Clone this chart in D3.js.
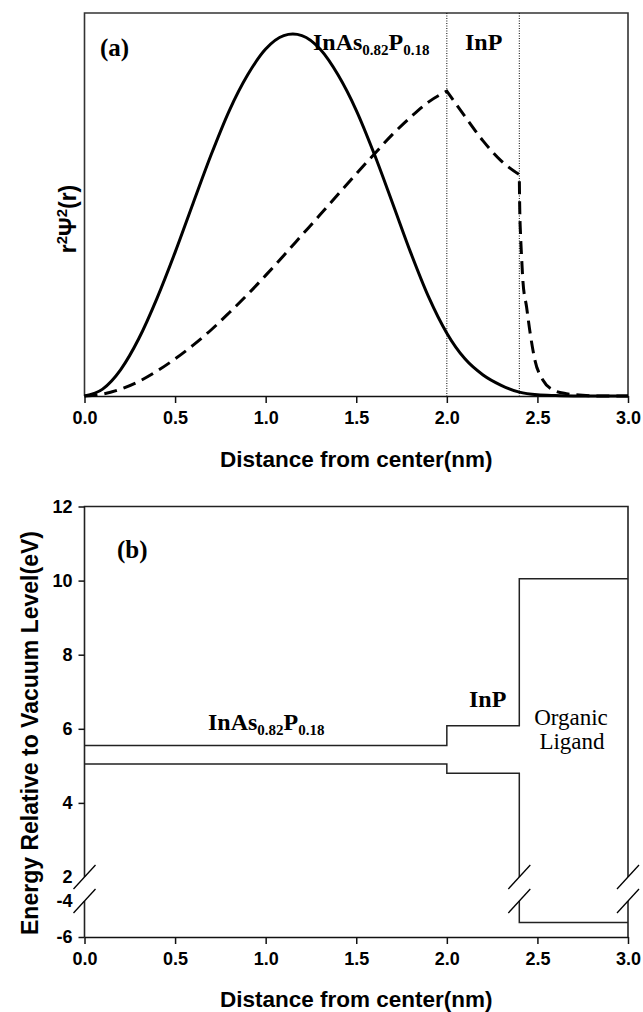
<!DOCTYPE html>
<html><head><meta charset="utf-8">
<script src="https://cdn.jsdelivr.net/npm/d3@7"></script>
<style>body{margin:0;background:#fff}svg{display:block}</style>
</head><body><svg id="c" width="643" height="1012"></svg>
<script>
// ---------- data ----------
const xTicks = [0, 0.5, 1.0, 1.5, 2.0, 2.5, 3.0];
// panel (a): r^2 psi^2(r), arbitrary units
const solidX = [0,0.1,0.2,0.3,0.4,0.5,0.6,0.7,0.8,0.9,1.0,1.1,1.15,1.2,1.3,1.4,1.5,1.6,1.7,1.8,1.9,2.0,2.1,2.2,2.3,2.4,2.5,2.6,2.7,2.8,3.0];
const solidY = [0,0.018,0.069,0.150,0.255,0.375,0.504,0.631,0.746,0.838,0.906,0.941,0.945,0.941,0.906,0.838,0.746,0.631,0.504,0.375,0.258,0.164,0.097,0.055,0.028,0.010,0.003,0.001,0,0,0];
const dashCoreX = [0,0.1,0.2,0.3,0.4,0.5,0.6,0.7,0.8,0.9,1.0,1.1,1.2,1.3,1.4,1.5,1.6,1.7,1.8,1.9,2.0];
const dashCoreY = [0,0.005,0.018,0.038,0.065,0.097,0.133,0.173,0.218,0.265,0.315,0.367,0.420,0.473,0.527,0.580,0.632,0.683,0.728,0.768,0.796];
const dashShellX = [2.0,2.1,2.2,2.3,2.4];
const dashShellY = [0.796,0.730,0.666,0.614,0.578];
const dashLigX = [2.4,2.402,2.407,2.413,2.42,2.44,2.46,2.486,2.53,2.586,2.66,2.75,2.85,3.0];
const dashLigY = [0.578,0.50,0.42,0.36,0.30,0.233,0.164,0.094,0.042,0.016,0.006,0.002,0,0];
const interfaces = [2.0, 2.4];
// panel (b): energy levels (eV)
const regionX = [0, 2.0, 2.4, 3.0];
const upperLevels = [5.55, 6.08, 10.05];
const lowerLevels = [5.05, 4.80, -5.2];
const energyTicks = [-6, -4, 2, 4, 6, 8, 10, 12];
const energyBreak = [-4, 2];

// ---------- layout ----------
const svg = d3.select("#c");
const L = 84.5, R = 628;
const sans = "'Liberation Sans', Arial, sans-serif";
const serif = "'Liberation Serif', 'Times New Roman', serif";
const ink = "#111";

const x = d3.scaleLinear().domain([0, 3]).range([L, R]);
const yA = d3.scaleLinear().domain([0, 1]).range([396, 13]);
const yB = d3.scaleLinear().domain([-6, -4, 2, 12]).range([937, 901, 877, 506.5]);

function xAxis(g, y0) {
  const ax = g.append("g").attr("transform", `translate(0,${y0})`)
    .call(d3.axisBottom(x).tickValues(xTicks).tickFormat(d3.format(".1f")).tickSize(7).tickSizeOuter(0).tickPadding(8));
  ax.select(".domain").attr("stroke", ink).attr("stroke-width", 1.6);
  ax.selectAll(".tick line").attr("stroke", ink).attr("stroke-width", 1.5);
  ax.selectAll(".tick text").attr("font-family", sans).attr("font-weight", "bold").attr("font-size", 18).attr("fill", "#000");
}

// ===== panel (a) =====
const a = svg.append("g");
a.append("path").attr("d", `M${x(0)},${yA(0)}V${yA(1)}H${x(3)}V${yA(0)}`)
  .attr("fill", "none").attr("stroke", "#333").attr("stroke-width", 1.6);
a.selectAll(".iface").data(interfaces).join("line")
  .attr("x1", d => x(d)).attr("x2", d => x(d)).attr("y1", yA(1)).attr("y2", yA(0))
  .attr("stroke", "#000").attr("stroke-width", 1).attr("stroke-dasharray", "1,1.5");
xAxis(a, yA(0));

const lineA = d3.line().x(d => x(d[0])).y(d => yA(d[1])).curve(d3.curveMonotoneX);
a.append("path").attr("d", lineA(d3.zip(solidX, solidY)))
  .attr("fill", "none").attr("stroke", "#000").attr("stroke-width", 3);
const p1 = lineA(d3.zip(dashCoreX, dashCoreY));
const p2 = lineA(d3.zip(dashShellX, dashShellY)).replace(/^M/, "L");
const p3 = lineA(d3.zip(dashLigX, dashLigY)).replace(/^M/, "L");
a.append("path").attr("d", p1 + p2 + p3)
  .attr("fill", "none").attr("stroke", "#000").attr("stroke-width", 3).attr("stroke-dasharray", "13,7");

a.append("text").attr("x", 100).attr("y", 56).attr("font-family", serif).attr("font-weight", "bold").attr("font-size", 25).text("(a)");
const ta = a.append("text").attr("x", 313).attr("y", 50).attr("font-family", serif).attr("font-weight", "bold").attr("font-size", 24);
ta.append("tspan").text("InAs");
ta.append("tspan").attr("font-size", 15).attr("dy", 5).text("0.82");
ta.append("tspan").attr("dy", -5).text("P");
ta.append("tspan").attr("font-size", 15).attr("dy", 5).text("0.18");
a.append("text").attr("x", 465).attr("y", 50).attr("font-family", serif).attr("font-weight", "bold").attr("font-size", 24).text("InP");

const yl = a.append("text").attr("transform", `translate(76,219) rotate(-90)`).attr("text-anchor", "middle")
  .attr("font-family", sans).attr("font-weight", "bold").attr("font-size", 23);
yl.append("tspan").text("r");
yl.append("tspan").attr("font-size", 15).attr("dy", -9).text("2");
yl.append("tspan").attr("dy", 9).text("Ψ");
yl.append("tspan").attr("font-size", 15).attr("dy", -9).text("2");
yl.append("tspan").attr("dy", 9).text("(r)");

a.append("text").attr("x", (L + R) / 2).attr("y", 467).attr("text-anchor", "middle")
  .attr("font-family", sans).attr("font-weight", "bold").attr("font-size", 22.5).text("Distance from center(nm)");

// ===== panel (b) =====
const b = svg.append("g");
const segLine = d3.line().x(d => x(d[0])).y(d => yB(d[1]));
const frameStroke = s => s.attr("fill", "none").attr("stroke", "#222").attr("stroke-width", 1.6);
b.append("path").attr("d", segLine([[0, energyBreak[1]], [0, 12], [3, 12], [3, energyBreak[1]]])).call(frameStroke);
b.append("path").attr("d", segLine([[0, energyBreak[0]], [0, -6]])).call(frameStroke);
b.append("path").attr("d", segLine([[3, energyBreak[0]], [3, -6]])).call(frameStroke);
xAxis(b, yB(-6));

const yAx = b.append("g").attr("transform", `translate(${L},0)`)
  .call(d3.axisLeft(yB).tickValues(energyTicks).tickFormat(d => String(d)).tickSize(6).tickSizeOuter(0).tickPadding(6));
yAx.select(".domain").remove();
yAx.selectAll(".tick line").attr("stroke", ink).attr("stroke-width", 1.5)
  .attr("visibility", d => energyBreak.includes(d) ? "hidden" : "visible");
yAx.selectAll(".tick text").attr("font-family", sans).attr("font-weight", "bold").attr("font-size", 18).attr("fill", "#000");

const upperPts = regionX.map((d, i) => [d, upperLevels[Math.min(i, upperLevels.length - 1)]]);
b.append("path").attr("d", d3.line().x(d => x(d[0])).y(d => yB(d[1])).curve(d3.curveStepAfter)(upperPts))
  .attr("fill", "none").attr("stroke", "#222").attr("stroke-width", 1.5);
const lowerPts1 = [[regionX[0], lowerLevels[0]], [regionX[1], lowerLevels[1]], [regionX[2], energyBreak[1]]];
b.append("path").attr("d", d3.line().x(d => x(d[0])).y(d => yB(d[1])).curve(d3.curveStepAfter)(lowerPts1))
  .attr("fill", "none").attr("stroke", "#222").attr("stroke-width", 1.5);
b.append("path").attr("d", segLine([[regionX[2], energyBreak[0]], [regionX[2], lowerLevels[2]], [regionX[3], lowerLevels[2]]]))
  .attr("fill", "none").attr("stroke", "#222").attr("stroke-width", 1.5);

const breakCols = [0, 2.4, 3.0];
const marks = [];
breakCols.forEach(c => energyBreak.forEach(v => marks.push([c, v])));
b.selectAll(".brk").data(marks).join("line")
  .attr("x1", d => x(d[0]) - 11).attr("y1", d => yB(d[1]) + 12)
  .attr("x2", d => x(d[0]) + 11).attr("y2", d => yB(d[1]) - 12)
  .attr("stroke", "#000").attr("stroke-width", 1.3);

b.append("text").attr("x", 117).attr("y", 558).attr("font-family", serif).attr("font-weight", "bold").attr("font-size", 25).text("(b)");
const tb = b.append("text").attr("x", 208).attr("y", 730).attr("font-family", serif).attr("font-weight", "bold").attr("font-size", 24);
tb.append("tspan").text("InAs");
tb.append("tspan").attr("font-size", 15).attr("dy", 5).text("0.82");
tb.append("tspan").attr("dy", -5).text("P");
tb.append("tspan").attr("font-size", 15).attr("dy", 5).text("0.18");
b.append("text").attr("x", 469).attr("y", 707).attr("font-family", serif).attr("font-weight", "bold").attr("font-size", 24).text("InP");
b.append("text").attr("x", 571).attr("y", 725).attr("text-anchor", "middle").attr("font-family", serif).attr("font-size", 23).text("Organic");
b.append("text").attr("x", 572).attr("y", 749).attr("text-anchor", "middle").attr("font-family", serif).attr("font-size", 23).text("Ligand");

b.append("text").attr("transform", `translate(38,733) rotate(-90)`).attr("text-anchor", "middle")
  .attr("font-family", sans).attr("font-weight", "bold").attr("font-size", 23).text("Energy Relative to Vacuum Level(eV)");
b.append("text").attr("x", (L + R) / 2).attr("y", 1007).attr("text-anchor", "middle")
  .attr("font-family", sans).attr("font-weight", "bold").attr("font-size", 22.5).text("Distance from center(nm)");
</script>
</body></html>
